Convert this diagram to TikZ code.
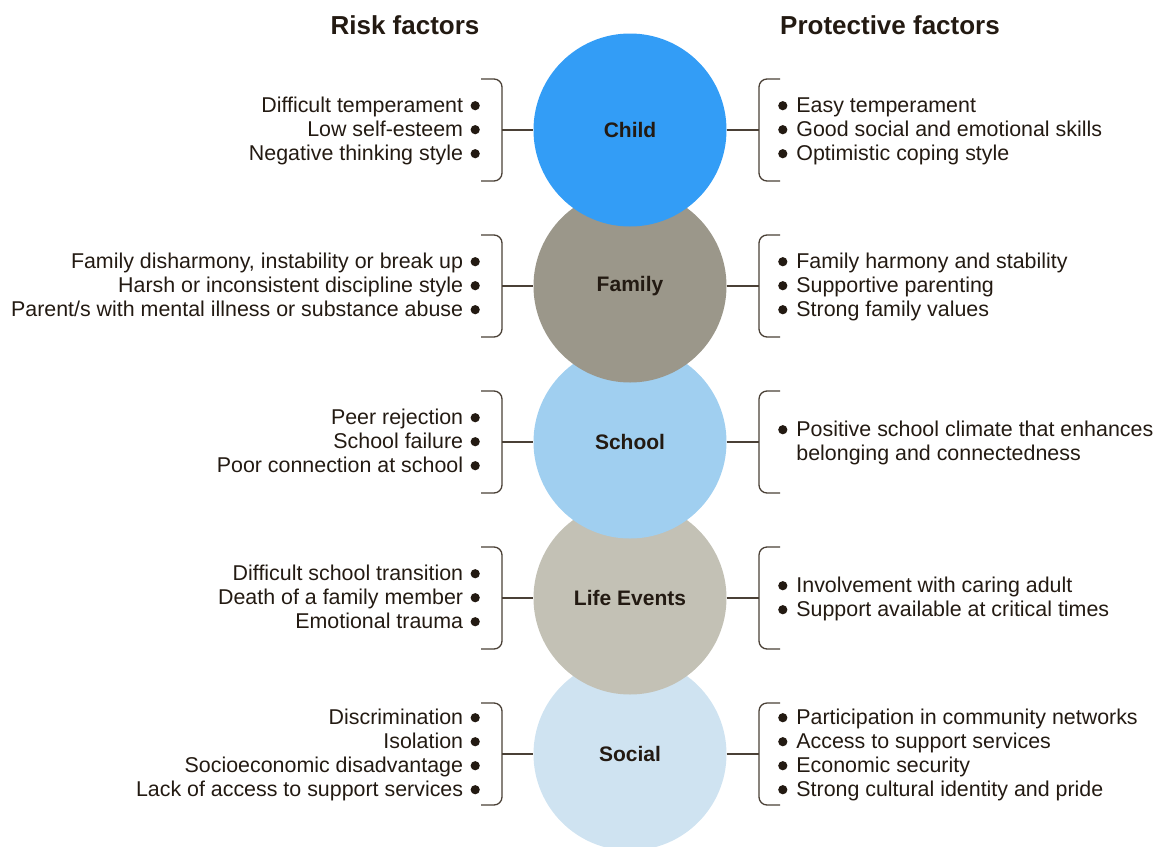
\documentclass[tikz,border=0pt]{standalone}
\usepackage{fontspec}
\setmainfont{Liberation Sans}
\usepackage{array}
\definecolor{txt}{HTML}{231A12}
\definecolor{ln}{HTML}{4A4036}
\definecolor{cChild}{HTML}{339DF6}
\definecolor{cFamily}{HTML}{9B978A}
\definecolor{cSchool}{HTML}{A0CFF0}
\definecolor{cLife}{HTML}{C3C1B5}
\definecolor{cSocial}{HTML}{CFE3F1}
\tikzset{
  hub/.style={circle, minimum size=193pt, inner sep=0pt, text=txt,
    font=\bfseries\fontsize{21}{24}\selectfont},
  head/.style={anchor=base, text=txt, font=\bfseries\fontsize{26}{30}\selectfont},
  risk/.style={anchor=base east, inner sep=0pt, text=txt, font=\fontsize{21.4}{24}\selectfont},
  prot/.style={anchor=base west, inner sep=0pt, text=txt, font=\fontsize{21.4}{24}\selectfont},
  brace/.style={draw=ln, line width=1.3pt, rounded corners=8pt},
  link/.style={draw=ln, line width=1.3pt}
}
% list bullet: a filled dot sitting at mid x-height
\newcommand{\bul}{\tikz[baseline=0pt]{\useasboundingbox (-3.6pt,0pt) rectangle (3.6pt,10pt);\fill[txt] (0pt,6.3pt) circle [radius=4.6pt];}}
\newcommand{\risklist}[1]{\begin{tabular}[t]{@{}r@{}}#1\end{tabular}}
\newcommand{\protlist}[1]{\begin{tabular}[t]{@{}l@{\hspace{10pt}}l@{}}#1\end{tabular}}
\newcommand{\ri}[1]{#1\hspace{8.5pt}\bul}
\begin{document}
\begin{tikzpicture}[x=1pt, y=-1pt]
\useasboundingbox (0,0) rectangle (1156,846);

% headings
\node[head] (riskhead) at (405,34) {Risk factors};
\node[head] (prothead) at (890,34) {Protective factors};

% hubs, bottom first so the upper circle overlaps the one below
\node[hub, fill=cSocial] (social) at (630,754) {Social};
\node[hub, fill=cLife]   (life)   at (630,598) {Life Events};
\node[hub, fill=cSchool] (school) at (630,442) {School};
\node[hub, fill=cFamily] (family) at (630,286) {Family};
\node[hub, fill=cChild]  (child)  at (630,130) {Child};

% brackets and their links to each hub
\foreach \h/\y in {child/130, family/286, school/442, life/598, social/754}{
  \draw[brace] (481,\y-51) -- (502,\y-51) -- (502,\y+51) -- (481,\y+51);
  \coordinate (\h-l) at (502,\y);
  \draw[link] (\h-l) -- (\h.west);
  \draw[brace] (780,\y-51) -- (759,\y-51) -- (759,\y+51) -- (780,\y+51);
  \coordinate (\h-r) at (759,\y);
  \draw[link] (\h.east) -- (\h-r);
}

% risk factors
\node[risk] (rchild) at (479,112) {\risklist{\ri{Difficult temperament}\\ \ri{Low self-esteem}\\ \ri{Negative thinking style}}};
\node[risk] (rfamily) at (479,268) {\risklist{\ri{Family disharmony, instability or break up}\\ \ri{Harsh or inconsistent discipline style}\\ \ri{Parent/s with mental illness or substance abuse}}};
\node[risk] (rschool) at (479,424) {\risklist{\ri{Peer rejection}\\ \ri{School failure}\\ \ri{Poor connection at school}}};
\node[risk] (rlife) at (479,580) {\risklist{\ri{Difficult school transition}\\ \ri{Death of a family member}\\ \ri{Emotional trauma}}};
\node[risk] (rsocial) at (479,724) {\risklist{\ri{Discrimination}\\ \ri{Isolation}\\ \ri{Socioeconomic disadvantage}\\ \ri{Lack of access to support services}}};

% protective factors
\node[prot] (pchild) at (779,112) {\protlist{\bul&Easy temperament\\ \bul&Good social and emotional skills\\ \bul&Optimistic coping style}};
\node[prot] (pfamily) at (779,268) {\protlist{\bul&Family harmony and stability\\ \bul&Supportive parenting\\ \bul&Strong family values}};
\node[prot] (pschool) at (779,436) {\protlist{\bul&Positive school climate that enhances\\ &belonging and connectedness}};
\node[prot] (plife) at (779,592) {\protlist{\bul&Involvement with caring adult\\ \bul&Support available at critical times}};
\node[prot] (psocial) at (779,724) {\protlist{\bul&Participation in community networks\\ \bul&Access to support services\\ \bul&Economic security\\ \bul&Strong cultural identity and pride}};
\end{tikzpicture}
\end{document}
